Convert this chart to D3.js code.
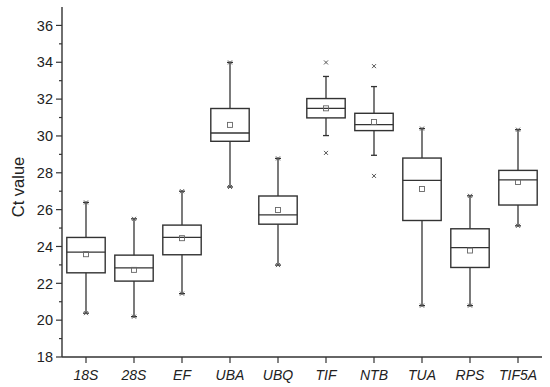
<!DOCTYPE html>
<html>
<head>
<meta charset="utf-8">
<script src="https://cdn.jsdelivr.net/npm/d3@7"></script>
<style>
  body { margin: 0; background: #fff; }
  text { font-family: "Liberation Sans", Arial, sans-serif; fill: #222; }
</style>
</head>
<body>
<svg width="550" height="387"></svg>
<script>
// box plot values
const genes = ['18S', '28S', 'EF', 'UBA', 'UBQ', 'TIF', 'NTB', 'TUA', 'RPS', 'TIF5A'];
const whiskerLow  = [20.38, 20.19, 21.44, 27.23, 22.99, 30.02, 28.95, 20.79, 20.79, 25.12];
const q1          = [22.57, 22.12, 23.55, 29.71, 25.21, 30.98, 30.29, 25.41, 22.86, 26.25];
const median      = [23.69, 22.84, 24.49, 30.16, 25.72, 31.50, 30.62, 27.59, 23.94, 27.62];
const q3          = [24.49, 23.53, 25.16, 31.49, 26.74, 32.03, 31.23, 28.80, 24.96, 28.13];
const whiskerHigh = [26.39, 25.50, 27.00, 33.99, 28.78, 33.23, 32.68, 30.40, 26.75, 30.34];
const means       = [23.58, 22.73, 24.45, 30.60, 25.98, 31.50, 30.76, 27.12, 23.78, 27.50];
// min / max markers that sit away from the whisker ends
const outliers = [
    {gene: 'TIF', v: 33.99}, {gene: 'TIF', v: 29.08},
    {gene: 'NTB', v: 33.79}, {gene: 'NTB', v: 27.83}
];
const yTicks = [18, 20, 22, 24, 26, 28, 30, 32, 34, 36];

const svg = d3.select('svg');
const margin = {top: 7, right: 8, bottom: 30, left: 62};
const width = +svg.attr('width');
const height = +svg.attr('height');

const data = genes.map((g, i) => ({
    gene: g, i: i + 1,
    lo: whiskerLow[i], q1: q1[i], med: median[i], q3: q3[i], hi: whiskerHigh[i], mean: means[i]
}));

const x = d3.scaleLinear().domain([0.5, 10.5]).range([margin.left, width - margin.right]);
const y = d3.scaleLinear().domain([18, 37]).range([height - margin.bottom, margin.top]);
const boxW = (x(2) - x(1)) * 0.8;
const ink = '#333';

// y axis
const yAxis = svg.append('g').attr('transform', `translate(${margin.left},0)`);
yAxis.append('line')
    .attr('x1', 0).attr('x2', 0).attr('y1', y(37)).attr('y2', y(18))
    .attr('stroke', ink).attr('stroke-width', 1.4);
yAxis.selectAll('.minor').data(d3.range(19, 37, 2)).enter().append('line')
    .attr('x1', -3).attr('x2', 0).attr('y1', d => y(d)).attr('y2', d => y(d))
    .attr('stroke', ink).attr('stroke-width', 1.2);
yAxis.selectAll('.major').data(yTicks).enter().append('line')
    .attr('x1', -6).attr('x2', 0).attr('y1', d => y(d)).attr('y2', d => y(d))
    .attr('stroke', ink).attr('stroke-width', 1.2);
yAxis.selectAll('.lab').data(yTicks).enter().append('text')
    .attr('x', -9).attr('y', d => y(d)).attr('dy', '0.36em')
    .attr('text-anchor', 'end').attr('font-size', 14.5)
    .text(d => d);

// x axis
const xAxis = svg.append('g').attr('transform', `translate(0,${y(18)})`);
xAxis.append('line')
    .attr('x1', x(0.5)).attr('x2', x(10.5))
    .attr('stroke', ink).attr('stroke-width', 1.4);
xAxis.selectAll('.tk').data(data).enter().append('line')
    .attr('x1', d => x(d.i)).attr('x2', d => x(d.i)).attr('y1', 0).attr('y2', 6)
    .attr('stroke', ink).attr('stroke-width', 1.2);
xAxis.selectAll('.lab').data(data).enter().append('text')
    .attr('x', d => x(d.i)).attr('y', 23)
    .attr('text-anchor', 'middle').attr('font-size', 14).attr('font-style', 'italic')
    .text(d => d.gene);

// y label
svg.append('text')
    .attr('transform', `translate(24,${(y(18) + y(37)) / 2 + 5}) rotate(-90)`)
    .attr('text-anchor', 'middle').attr('font-size', 16.5)
    .text('Ct value');

// boxes
const g = svg.append('g').attr('stroke', ink).attr('fill', 'none');
const box = g.selectAll('.box').data(data).enter().append('g');

box.append('line')
    .attr('x1', d => x(d.i)).attr('x2', d => x(d.i))
    .attr('y1', d => y(d.hi)).attr('y2', d => y(d.q3)).attr('stroke-width', 1.3);
box.append('line')
    .attr('x1', d => x(d.i)).attr('x2', d => x(d.i))
    .attr('y1', d => y(d.q1)).attr('y2', d => y(d.lo)).attr('stroke-width', 1.3);
box.selectAll('.cap').data(d => [{i: d.i, v: d.lo}, {i: d.i, v: d.hi}]).enter().append('line')
    .attr('x1', d => x(d.i) - 3).attr('x2', d => x(d.i) + 3)
    .attr('y1', d => y(d.v)).attr('y2', d => y(d.v)).attr('stroke-width', 1.3);
box.append('rect')
    .attr('x', d => x(d.i) - boxW / 2).attr('width', boxW)
    .attr('y', d => y(d.q3)).attr('height', d => y(d.q1) - y(d.q3))
    .attr('stroke-width', 1.4);
box.append('line')
    .attr('x1', d => x(d.i) - boxW / 2).attr('x2', d => x(d.i) + boxW / 2)
    .attr('y1', d => y(d.med)).attr('y2', d => y(d.med)).attr('stroke-width', 1.3);
box.append('rect')
    .attr('x', d => x(d.i) - 2.5).attr('y', d => y(d.mean) - 2.5)
    .attr('width', 5).attr('height', 5)
    .attr('stroke', '#666').attr('stroke-width', 0.9);

// x markers: at whisker ends for most genes, separate for TIF / NTB
const pos = {};
data.forEach(d => pos[d.gene] = d.i);
const marks = [];
data.forEach(d => {
    if (!outliers.some(o => o.gene === d.gene)) {
        marks.push({i: d.i, v: d.lo}, {i: d.i, v: d.hi});
    }
});
outliers.forEach(o => marks.push({i: pos[o.gene], v: o.v}));
g.selectAll('.xm').data(marks).enter().append('path')
    .attr('d', d => {
        const cx = x(d.i), cy = y(d.v), s = 2;
        return `M${cx - s},${cy - s}L${cx + s},${cy + s}M${cx - s},${cy + s}L${cx + s},${cy - s}`;
    })
    .attr('stroke', '#555').attr('stroke-width', 1);
</script>
</body>
</html>
